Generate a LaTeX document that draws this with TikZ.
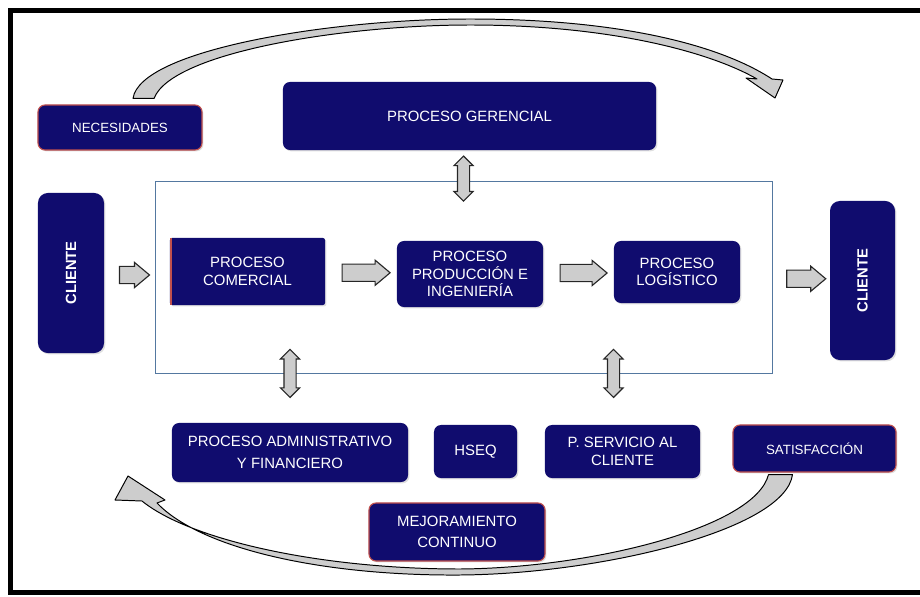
\documentclass[tikz,border=0pt]{standalone}
\usepackage{fontspec}
\setmainfont{Liberation Sans}
\usetikzlibrary{shapes.arrows,shadows,calc}
\definecolor{navyfill}{RGB}{16,12,110}
\definecolor{redline}{RGB}{192,80,77}
\definecolor{framecol}{RGB}{84,120,160}
\definecolor{arrowgray}{RGB}{205,205,205}
\tikzset{
  procbox/.style={fill=navyfill, text=white, rounded corners=5pt, align=center, inner sep=2pt,
    font=\fontsize{10.6}{12.5}\selectfont,
    drop shadow={shadow xshift=1pt, shadow yshift=-1pt, opacity=0.25}},
  redbox/.style={procbox, draw=redline, line width=0.8pt},
  smalltext/.style={font=\fontsize{9.5}{11.5}\selectfont},
  clientbox/.style={procbox, rounded corners=7pt, font=\bfseries\fontsize{10.5}{12}\selectfont},
  blockarrow/.style={single arrow, fill=arrowgray, draw=black!85, line width=0.8pt,
    inner xsep=0pt, inner ysep=0.2cm, minimum width=0.6cm, single arrow head extend=0.1cm,
    single arrow tip angle=80},
  dblarrow/.style={double arrow, rotate=90, fill=arrowgray, draw=black!85, line width=0.8pt,
    inner xsep=0pt, inner ysep=0.1375cm, minimum width=0.45cm, double arrow head extend=0.0875cm,
    double arrow tip angle=90},
  curvearrow/.style={fill=arrowgray, draw=black, line width=0.7pt, line join=round}
}
\begin{document}
\begin{tikzpicture}[x=0.025cm, y=-0.025cm]
    \useasboundingbox (0,0) rectangle (920,597);
    \draw [line width=3.5pt] (10.5,10.5) rectangle (940,592.5);% outer frame
    \node [draw=framecol, line width=0.6pt, minimum width=15.425cm, minimum height=4.8cm] (frame) at (463.5,277) {};% process frame
    % top row
    \node [redbox, smalltext, minimum width=4.1cm, minimum height=1.125cm] (nec) at (120,127.5) {NECESIDADES};
    \node [procbox, minimum width=9.325cm, minimum height=1.7cm] (ger) at (469.5,116) {PROCESO GERENCIAL};
    % clients
    \node [clientbox, minimum width=1.65cm, minimum height=4cm] (cliL) at (71,273) {\rotatebox{90}{CLIENTE}};
    \node [clientbox, minimum width=1.625cm, minimum height=3.975cm] (cliR) at (862.5,280.5) {\rotatebox{90}{CLIENTE}};
    % main processes
    \node [procbox, rounded corners=1.5pt, minimum width=3.875cm, minimum height=1.675cm] (com) at (247.5,271.5) {PROCESO\\COMERCIAL};
    \draw [redline, line width=1.6pt] ([xshift=0.8pt]com.north west) -- ([xshift=0.8pt]com.south west);
    \node [procbox, minimum width=3.65cm, minimum height=1.65cm] (prod) at (470,274) {PROCESO\\PRODUCCIÓN E\\INGENIERÍA};
    \node [procbox, minimum width=3.15cm, minimum height=1.55cm] (log) at (677,272) {PROCESO\\LOGÍSTICO};
    % support processes
    \node [procbox, minimum width=5.9cm, minimum height=1.475cm] (adm) at (290,452.5) {PROCESO ADMINISTRATIVO\\[3pt]Y FINANCIERO};
    \node [procbox, minimum width=2.075cm, minimum height=1.325cm] (hseq) at (475.5,451.5) {HSEQ};
    \node [procbox, minimum width=3.875cm, minimum height=1.325cm] (serv) at (622.5,451.5) {P. SERVICIO AL\\CLIENTE};
    \node [redbox, smalltext, minimum width=4.075cm, minimum height=1.175cm] (sat) at (814.5,448.5) {SATISFACCIÓN};
    \node [redbox, minimum width=4.4cm, minimum height=1.45cm] (mej) at (457,532) {MEJORAMIENTO\\[2pt]CONTINUO};
    % flow arrows
    \node [blockarrow, minimum height=0.75cm] at ($(cliL.east)!0.5!(frame.west)$) {};
    \node [blockarrow, minimum height=1.2cm] at ($(com.east)!0.5!(prod.west)$) {};
    \node [blockarrow, minimum height=1.175cm] at ($(prod.east)!0.5!(log.west)$) {};
    \node [blockarrow, minimum height=0.975cm] at ($(frame.east)!0.5!(cliR.west)$) {};
    \node [dblarrow, minimum height=1.125cm] at ($(ger.south |- frame.north)+(-6,-2)$) {};
    \node [dblarrow, minimum height=1.2cm] at (adm.north |- frame.south) {};
    \node [dblarrow, minimum height=1.2cm] at ($(serv.north |- frame.south)+(-9,0)$) {};
    % cycle arrows
    \coordinate (NeedL)  at ($(nec.north)+(13,-6)$);
    \coordinate (NeedR)  at ($(nec.north)+(34,-6)$);
    \coordinate (TopTip) at (775,98);
    \coordinate (SatL)   at ($(sat.south)+(-46,2)$);
    \coordinate (SatR)   at ($(sat.south)+(-22,2)$);
    \coordinate (LowTip) at (128,476);
    \draw [curvearrow] (NeedL) .. controls (140,50) and (330,19) .. (470,19) .. controls (620,19) and (720,45) .. (772,79)
        -- (783,80) -- (TopTip) -- (746,78) -- (757,79)
        .. controls (710,52) and (610,25) .. (470,25) .. controls (345,25) and (172,52) .. (NeedR) -- cycle;
    \draw [curvearrow] (SatR) .. controls (785,530) and (600,574) .. (460,575) .. controls (320,576) and (200,548) .. (157,503)
        -- (165,500) -- (LowTip) -- (115,500) -- (142,501)
        .. controls (190,540) and (320,569) .. (460,569) .. controls (590,568) and (755,528) .. (SatL) -- cycle;
\end{tikzpicture}
\end{document}
